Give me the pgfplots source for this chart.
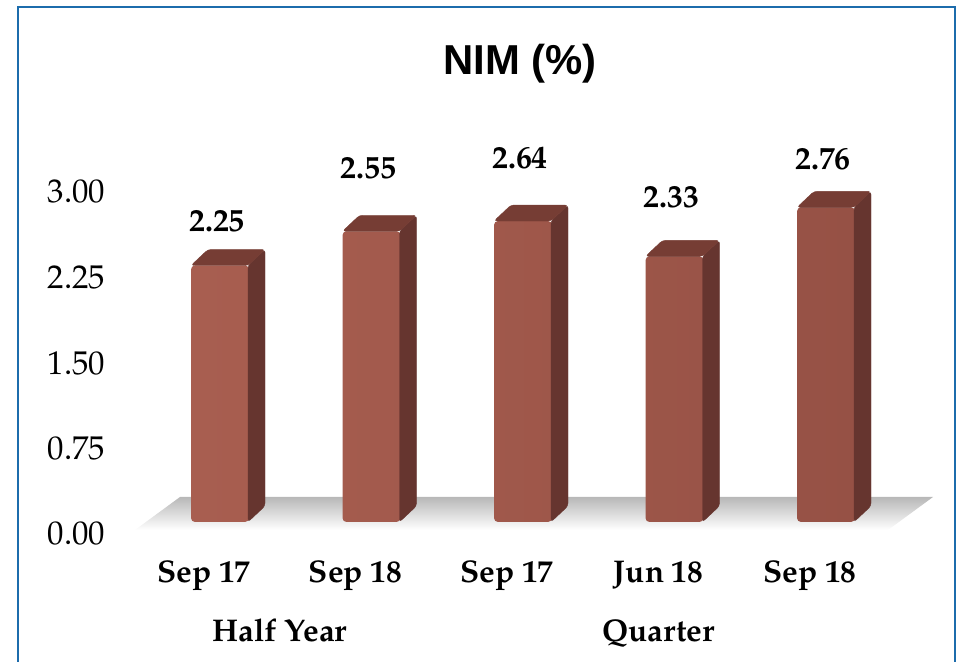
\documentclass[border=0pt]{standalone}
\usepackage{pgfplots}
\pgfplotsset{compat=1.18}
\usepackage{fontspec}
\setmainfont{TeX Gyre Pagella}
\newfontfamily\titlefont{Liberation Sans}
\definecolor{borderblue}{RGB}{28,108,172}
\definecolor{frontL}{RGB}{168,94,80}
\definecolor{frontR}{RGB}{150,81,69}
\definecolor{sidec}{RGB}{102,53,47}
\definecolor{topc}{RGB}{118,61,52}
\pgfdeclareplotmark{emptymark}{}
\pgfplotstableread{
x y off
0 2.25 34
1 2.55 53
2 2.64 53
3 2.33 49
4 2.76 38
}\nimdata
\begin{document}
\begin{tikzpicture}[x=1bp,y=1bp]
\useasboundingbox (0,0) rectangle (959,662);
\draw[borderblue, line width=2.5bp] (18,0) -- (18,655) -- (955,655) -- (955,0);
\node[font=\titlefont\bfseries\fontsize{42}{50}\selectfont, anchor=base] at (520,587) {NIM (\%)};
\shade[top color=black!28, bottom color=white] (135,132) -- (180,165) -- (933,165) -- (888,132) -- cycle;
\begin{axis}[at={(220bp,140bp)}, anchor=origin, x=151.5bp, y=114bp,
  xmin=-0.72, xmax=4.72, ymin=0, ymax=3.3,
  axis line style={draw=none}, tick style={draw=none}, clip=false,
  ytick={0,0.75,1.5,2.25,3},
  yticklabel style={/pgf/number format/.cd, fixed, fixed zerofill, precision=2, assume math mode=true, /tikz/.cd, font=\fontsize{33}{39}\selectfont, yshift=-12bp, xshift=-2bp},
  xtick={0,1,2,3,4},
  xticklabels={Sep 17, Sep 18, Sep 17, Jun 18, Sep 18},
  xticklabel style={font=\bfseries\fontsize{31.5}{37}\selectfont, anchor=base, yshift=-61bp, xshift=-16bp}]
\addplot[scatter, only marks, mark=emptymark,
  visualization depends on={\thisrow{y} \as \val},
  scatter/@pre marker code/.code={
    \fill[sidec, rounded corners=3bp] (28bp,0bp) -- (45bp,16bp) -- ({45bp},{16bp-\val*114bp}) -- ({28bp},{-\val*114bp}) -- cycle;
    \fill[topc, rounded corners=3bp] (-29bp,0bp) -- (-12bp,16bp) -- (45bp,16bp) -- (28bp,0bp) -- cycle;
  },
  scatter/@post marker code/.code={}] table[x=x, y=y] {\nimdata};
\addplot[ybar, bar width=58bp, draw=none, left color=frontL, right color=frontR, rounded corners=4bp,
  point meta=explicit,
  nodes near coords={\pgfmathprintnumber[fixed,fixed zerofill,precision=2,assume math mode=true]{\pgfplotspointmeta}},
  visualization depends on={\thisrow{off} \as \off},
  every node near coord/.append style={anchor=base, yshift=\off bp, xshift=-3bp, font=\bfseries\fontsize{32}{38}\selectfont, text=black}]
  table[x=x, y=y, meta=y] {\nimdata};
\node[anchor=base, font=\bfseries\fontsize{31.5}{37}\selectfont] at (axis cs:0.5,0) [yshift=-120bp, xshift=-16bp] {Half Year};
\node[anchor=base, font=\bfseries\fontsize{31.5}{37}\selectfont] at (axis cs:3,0) [yshift=-120bp, xshift=-16bp] {Quarter};
\end{axis}
\end{tikzpicture}
\end{document}
